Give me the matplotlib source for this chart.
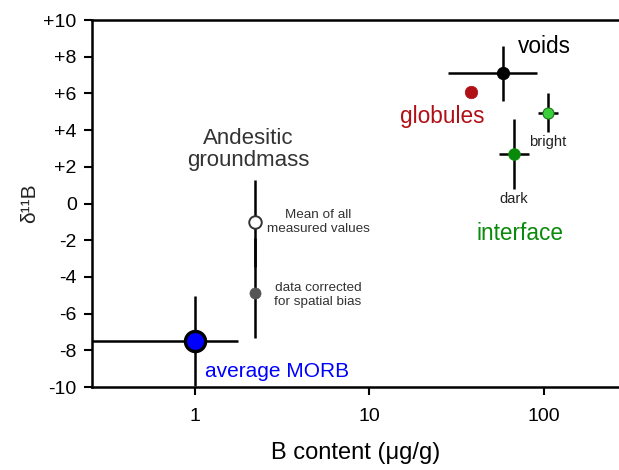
import matplotlib
matplotlib.use('Agg')
import matplotlib.pyplot as plt
from matplotlib.ticker import FixedLocator, NullLocator

# --- data (B content in ug/g, delta11B in permil) ---
names   = ['MORB', 'mean_all', 'corrected', 'voids', 'globules', 'bright', 'dark']
b_val   = [1.0, 2.205, 2.222, 58.0, 38.0, 105.0, 67.0]
b_lo    = [0.8, 0.13, 0.13, 30.0, 0.0, 13.0, 12.0]
b_hi    = [0.76, 0.14, 0.14, 33.0, 0.0, 15.0, 15.0]
d11b    = [-7.5, -1.0, -4.9, 7.1, 6.05, 4.95, 2.7]
d11b_lo = [2.45, 2.44, 2.42, 1.5, 0.0, 1.05, 1.9]
d11b_hi = [2.45, 2.3, 3.0, 1.5, 0.0, 1.05, 1.9]
face    = ['#0000ff', 'white', '#555555', 'black', '#b01015', '#3ccf3c', '#0a8a0a']
edge    = ['black', '#333333', '#555555', 'black', '#b01015', '#1a7a1a', '#0a8a0a']
msize   = [14.5, 9, 8, 9, 9, 8, 8.5]
medge   = [2.4, 1.4, 0.5, 0.5, 0.5, 0.8, 0.5]

yticks = [-10, -8, -6, -4, -2, 0, 2, 4, 6, 8, 10]
ytick_labels = ['-10', '-8', '-6', '-4', '-2', '0', '+2', '+4', '+6', '+8', '+10']
xticks = [1, 10, 100]
xtick_labels = ['1', '10', '100']

plt.rcParams['font.family'] = ['Liberation Sans', 'DejaVu Sans']

fig = plt.figure(figsize=(6.19, 4.70), dpi=100)
ax = fig.add_axes([92 / 619, 1 - 387 / 470, 1 - 92 / 619, (387 - 20) / 470])

for i in range(len(names)):
    xe = [[b_lo[i]], [b_hi[i]]] if b_hi[i] > 0 else None
    ye = [[d11b_lo[i]], [d11b_hi[i]]] if d11b_hi[i] > 0 else None
    ax.errorbar([b_val[i]], [d11b[i]], xerr=xe, yerr=ye, fmt='o',
                ecolor='black', elinewidth=1.8, capsize=0,
                markersize=msize[i], markerfacecolor=face[i],
                markeredgecolor=edge[i], markeredgewidth=medge[i],
                zorder=3 + (i == 0))

ax.set_xscale('log')
ax.set_xlim(0.257, 269)
ax.set_ylim(-10, 10)
ax.xaxis.set_major_locator(FixedLocator(xticks))
ax.xaxis.set_minor_locator(NullLocator())
ax.set_xticklabels(xtick_labels)
ax.set_yticks(yticks)
ax.set_yticklabels(ytick_labels)
ax.tick_params(axis='both', direction='out', length=6, width=1.5,
               labelsize=14, colors='black', pad=5)
ax.tick_params(axis='x', pad=9)

for s in ['left', 'top', 'bottom']:
    ax.spines[s].set_linewidth(1.8)
ax.spines['right'].set_visible(False)

ax.set_xlabel('B content (\u03bcg/g)', fontsize=17, labelpad=12)
ax.set_ylabel('\u03b4\u00b9\u00b9B', fontsize=15, labelpad=3, color='#222222')

ax.text(2.01, 2.95, 'Andesitic\ngroundmass', ha='center', va='center',
        fontsize=16, color='#333333', linespacing=1.05)
ax.text(5.07, -1.0, 'Mean of all\nmeasured values', ha='center', va='center',
        fontsize=9.7, color='#333333')
ax.text(5.07, -4.97, 'data corrected\nfor spatial bias', ha='center', va='center',
        fontsize=9.7, color='#333333')
ax.text(1.14, -9.13, 'average MORB', ha='left', va='center',
        fontsize=15, color='#0000ff')
ax.text(71, 8.55, 'voids', ha='left', va='center', fontsize=16.3, color='black')
ax.text(26, 4.75, 'globules', ha='center', va='center', fontsize=16.3,
        color='#b01015')
ax.text(105, 3.33, 'bright', ha='center', va='center', fontsize=10.7,
        color='#222222')
ax.text(67, 0.22, 'dark', ha='center', va='center', fontsize=10.5,
        color='#222222')
ax.text(72.8, -1.64, 'interface', ha='center', va='center', fontsize=16.3,
        color='#0a8a0a')

fig.savefig('out.png', dpi=100)
